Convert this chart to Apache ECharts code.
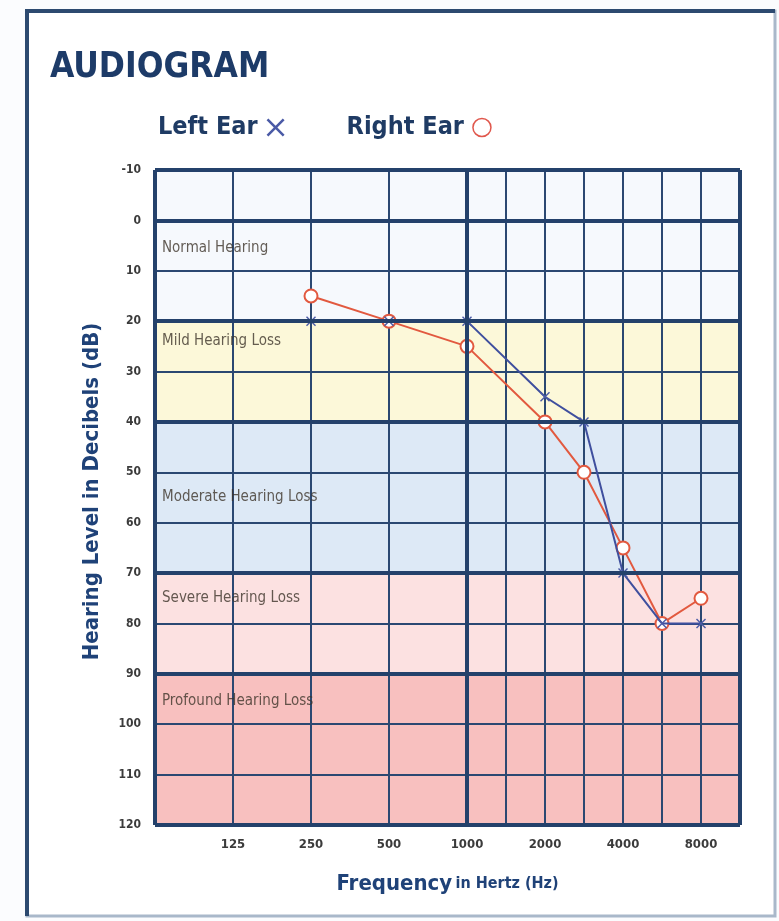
<!DOCTYPE html>
<html>
<head>
<meta charset="utf-8">
<script src="https://cdn.jsdelivr.net/npm/echarts@6/dist/echarts.min.js"></script>
<style>
  html, body { margin: 0; padding: 0; background: #fbfcfe; }
  #main { width: 779px; height: 921px; }
</style>
</head>
<body>
<div id="main"></div>
<script>
// frequency slots along the x axis (unlabelled ones only pad the spacing)
var xSlots = ['lo', '90', '125', '180', '250', '350', '500', '750', '1000', '1500', '2000', '3000', '4000', '6000', '8000', 'hi'];
var xTickLabels = ['125', '250', '500', '1000', '2000', '4000', '8000'];
var gridSlots = ['125', '250', '500', '1000', '1500', '2000', '3000', '4000', '6000', '8000'];

// measured frequencies and thresholds (dB)
var freqs = ['250', '500', '1000', '2000', '3000', '4000', '6000', '8000'];
var leftEar = [20, 20, 20, 35, 40, 70, 80, 80];
var rightEar = [15, 20, 25, 40, 50, 65, 80, 75];

// hearing loss bands
var bandNames = ['Normal Hearing', 'Mild Hearing Loss', 'Moderate Hearing Loss', 'Severe Hearing Loss', 'Profound Hearing Loss'];
var bandFrom = [-10, 20, 40, 70, 90];
var bandTo = [20, 40, 70, 90, 120];
var bandLabelDb = [5.5, 24, 55, 75, 95.5];
var bandColors = ['#f6f9fd', '#fcf8d9', '#dde9f6', '#fce1e1', '#f8c0bf'];

var thickDb = [-10, 0, 20, 40, 70, 90, 120];
var thickSlots = ['lo', '1000', 'hi'];

var navy = '#2b4872';
var narrow = "'Liberation Sans Narrow', 'DejaVu Sans Condensed', sans-serif";
var xPath = 'path://M1,0 L5,4 L9,0 L10,1 L6,5 L10,9 L9,10 L5,6 L1,10 L0,9 L4,5 L0,1 Z';

var myChart = echarts.init(document.getElementById('main'));

var option = {
    animation: false,
    graphic: [
        {
            type: 'rect', z: -10,
            shape: { x: 27, y: 11, width: 748, height: 905 },
            style: { fill: '#ffffff', stroke: '#a9b8ca', lineWidth: 3 }
        },
        {
            type: 'polyline', z: -9,
            shape: { points: [[27, 916], [27, 11], [775, 11]] },
            style: { stroke: '#2d4a70', lineWidth: 4, fill: null }
        }
    ],
    title: {
        text: 'AUDIOGRAM',
        left: 45,
        top: 45,
        textStyle: { fontFamily: narrow, fontSize: 35, fontWeight: 'bold', color: '#1d3b68' }
    },
    legend: {
        left: 153,
        top: 110,
        align: 'right',
        itemGap: 62,
        itemWidth: 18,
        itemHeight: 18,
        selectedMode: false,
        textStyle: { fontFamily: narrow, fontSize: 25, fontWeight: 'bold', color: '#1f3b64', padding: [0, 4, 0, 0] },
        data: [
            { name: 'Left Ear', icon: xPath, itemStyle: { color: '#4a5aa6' } },
            { name: 'Right Ear', icon: 'circle', itemStyle: { color: '#ffffff', borderColor: '#e0574c', borderWidth: 1.5 } }
        ]
    },
    grid: { left: 155, right: 39, top: 170, bottom: 96 },
    xAxis: {
        type: 'category',
        data: xSlots,
        boundaryGap: false,
        axisLine: { show: false },
        axisTick: { show: false },
        axisLabel: {
            interval: 0,
            margin: 13,
            fontSize: 13,
            fontWeight: 'bold',
            color: '#3b3b3b',
            fontFamily: narrow,
            formatter: function (v) { return xTickLabels.indexOf(v) >= 0 ? v : ''; }
        },
        splitLine: {
            show: true,
            interval: function (idx, v) { return gridSlots.indexOf(v) >= 0; },
            lineStyle: { color: navy, width: 2 }
        },
        name: '{a|Frequency} {b|in Hertz (Hz)}',
        nameLocation: 'middle',
        nameGap: 48,
        nameTextStyle: {
            rich: {
                a: { fontFamily: narrow, fontSize: 22, fontWeight: 'bold', color: '#1f4278' },
                b: { fontFamily: narrow, fontSize: 16, fontWeight: 'bold', color: '#1f4278' }
            }
        }
    },
    yAxis: {
        type: 'value',
        inverse: true,
        min: -10,
        max: 120,
        interval: 10,
        axisLine: { show: false },
        axisTick: { show: false },
        axisLabel: { margin: 14, fontSize: 12, fontWeight: 'bold', color: '#3b3b3b', fontFamily: narrow },
        splitLine: { lineStyle: { color: navy, width: 2 } },
        name: 'Hearing Level in Decibels (dB)',
        nameLocation: 'middle',
        nameRotate: 90,
        nameGap: 52,
        nameTextStyle: { fontFamily: narrow, fontSize: 22, fontWeight: 'bold', color: '#1f4278', padding: [0, 0, 0, 12] }
    },
    series: [
        {
            name: 'bands',
            type: 'line',
            z: -1,
            data: [],
            silent: true,
            markArea: {
                silent: true,
                z: -1,
                data: bandFrom.map(function (f, i) {
                    return [{ yAxis: f, itemStyle: { color: bandColors[i] } }, { yAxis: bandTo[i] }];
                })
            }
        },
        {
            name: 'bandLabels',
            type: 'scatter',
            z: 1,
            silent: true,
            symbolSize: 0,
            data: bandNames.map(function (n, i) { return { name: n, value: [xSlots[0], bandLabelDb[i]] }; }),
            label: {
                show: true,
                position: 'right',
                distance: 7,
                formatter: '{b}',
                fontFamily: narrow,
                fontSize: 15,
                color: '#3d352b'
            }
        },
        {
            name: 'thickLines',
            type: 'line',
            z: 1,
            data: [],
            silent: true,
            markLine: {
                silent: true,
                symbol: ['none', 'none'],
                label: { show: false },
                lineStyle: { type: 'solid', color: '#24416b', width: 4 },
                data: thickDb.map(function (v) { return { yAxis: v }; })
                    .concat(thickSlots.map(function (s) { return { xAxis: s }; }))
            }
        },
        {
            name: 'Right Ear',
            type: 'line',
            z: 3,
            data: freqs.map(function (f, i) { return [f, rightEar[i]]; }),
            symbol: 'emptyCircle',
            symbolSize: 13,
            lineStyle: { color: '#e2593f', width: 2 },
            itemStyle: { color: '#e2593f', borderWidth: 1.5 }
        },
        {
            name: 'Left Ear',
            type: 'line',
            z: 4,
            data: freqs.map(function (f, i) { return [f, leftEar[i]]; }),
            symbol: xPath,
            symbolSize: 10,
            lineStyle: { color: '#3f4f9e', width: 2 },
            itemStyle: { color: '#4a5aa6' }
        }
    ]
};

myChart.setOption(option);
</script>
</body>
</html>
